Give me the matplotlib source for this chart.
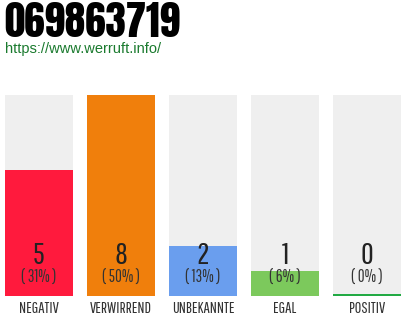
import matplotlib
matplotlib.use("Agg")
import matplotlib.pyplot as plt

# data
categories = ["NEGATIV", "VERWIRREND", "UNBEKANNTE", "EGAL", "POSITIV"]
counts = [5, 8, 2, 1, 0]
percents = ["( 31% )", "( 50% )", "( 13% )", "( 6% )", "( 0% )"]
colors = ["#ff1a3d", "#f07f0c", "#6a9eee", "#7cc95c", "#22aa44"]
title = "069863719"
url = "https://www.werruft.info/"

W, H = 410, 320
fig = plt.figure(figsize=(W / 100, H / 100), dpi=100)
fig.patch.set_facecolor("white")

# bar area: x 5..401, y 95..296 (pixels from top)
ax = fig.add_axes([5 / W, (H - 296) / H, 396 / W, 201 / H])
ax.set_xlim(-0.4146, 4.4146)
ymax = max(counts)
ax.set_ylim(0, ymax)
ax.axis("off")

x = list(range(len(categories)))
bw = 68 / 82
ax.bar(x, [ymax] * len(x), width=bw, color="#efefef", zorder=1)
for i, c in enumerate(counts):
    h = c if c > 0 else ymax * 0.008
    ax.bar(i, h, width=bw, color=colors[i], zorder=2)

narrow = ["Pathway Gothic One", "DejaVu Sans"]
for i, c in enumerate(counts):
    ax.text(i, 32 / 201 * ymax, str(c), ha="center", va="baseline",
            fontsize=22.5, family=narrow, color="#222222", zorder=3)
    ax.text(i, 13 / 201 * ymax, percents[i], ha="center", va="baseline",
            fontsize=12, family=narrow, color="#333333", zorder=3)
    fig.text((5 + 34 + 82 * i) / W, 1 - 313 / H, categories[i], ha="center",
             va="baseline", fontsize=11.5, family=narrow, color="#333333")

fig.text(4 / W, 1 - 37 / H, title, ha="left", va="baseline", fontsize=29.5,
         family=["Anton", "DejaVu Sans"], color="#000000")
fig.text(5 / W, 1 - 53 / H, url, ha="left", va="baseline", fontsize=10.5,
         family=["Liberation Sans", "DejaVu Sans"], color="#1a7a2e")

plt.savefig("out.png", dpi=100)
plt.close()
